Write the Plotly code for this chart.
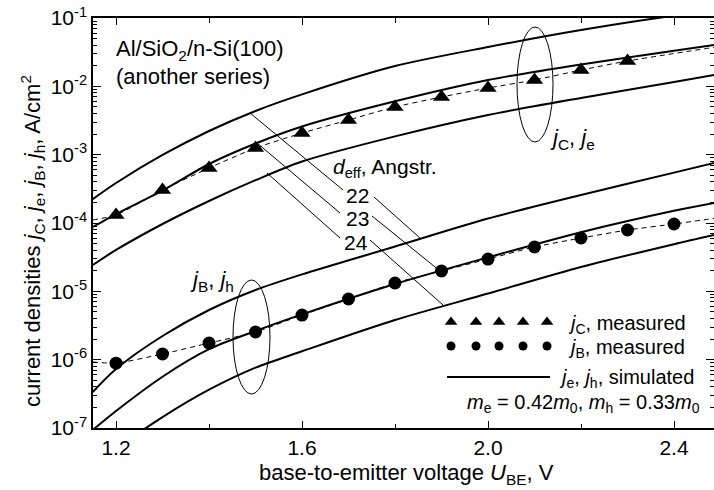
import plotly.graph_objects as go

# ---------------- data ----------------
V_sim = [1.15, 1.2, 1.3, 1.4, 1.5, 1.6, 1.8, 2.0, 2.2, 2.4, 2.49]
je_22 = [2.24e-4, 3.85e-4, 9.89e-4, 2.22e-3, 4.36e-3, 7.62e-3, 1.98e-2, 3.76e-2, 6.67e-2, 1.08e-1, 1.28e-1]
je_23 = [8.74e-5, 1.354e-4, 2.98e-4, 7.30e-4, 1.457e-3, 2.584e-3, 6.04e-3, 1.238e-2, 2.094e-2, 3.31e-2, 4.07e-2]
je_24 = [2.43e-5, 4.03e-5, 9.67e-5, 2.10e-4, 4.23e-4, 7.94e-4, 1.851e-3, 3.81e-3, 6.77e-3, 1.161e-2, 1.485e-2]
jh_22 = [3.36e-7, 7.30e-7, 2.22e-6, 5.33e-6, 1.046e-5, 1.769e-5, 4.53e-5, 1.164e-4, 2.57e-4, 5.46e-4, 7.68e-4]
jh_23 = [9.35e-8, 1.773e-7, 5.63e-7, 1.423e-6, 2.627e-6, 4.597e-6, 1.28e-5, 3.138e-5, 7.33e-5, 1.509e-4, 1.988e-4]
jh_24 = [2.69e-8, 4.93e-8, 1.443e-7, 3.635e-7, 7.65e-7, 1.326e-6, 3.806e-6, 9.27e-6, 2.27e-5, 4.90e-5, 6.76e-5]

V_C = [1.2, 1.3, 1.4, 1.5, 1.6, 1.7, 1.8, 1.9, 2.0, 2.1, 2.2, 2.3]
jC_meas = [1.31e-4, 3.04e-4, 6.38e-4, 1.25e-3, 2.07e-3, 3.22e-3, 4.99e-3, 6.98e-3, 9.45e-3, 1.24e-2, 1.73e-2, 2.35e-2]
V_B = [1.2, 1.3, 1.4, 1.5, 1.6, 1.7, 1.8, 1.9, 2.0, 2.1, 2.2, 2.3, 2.4]
jB_meas = [8.9e-7, 1.21e-6, 1.75e-6, 2.54e-6, 4.50e-6, 7.72e-6, 1.324e-5, 1.984e-5, 2.97e-5, 4.46e-5, 6.03e-5, 7.9e-5, 9.67e-5]
# ends of the dashed guide lines (left axis / right edge)
guide_V_ends = [1.15, 2.49]
jC_guide_ends = [1.107e-4, 3.76e-2]
jB_guide_ends = [9.25e-7, 1.18e-4]

x_ticks = [1.2, 1.6, 2.0, 2.4]
x_tick_labels = ["1.2", "1.6", "2.0", "2.4"]
y_ticks = [1e-7, 1e-6, 1e-5, 1e-4, 1e-3, 1e-2, 1e-1]
y_tick_labels = ["10<sup>-7</sup>", "10<sup>-6</sup>", "10<sup>-5</sup>", "10<sup>-4</sup>",
                 "10<sup>-3</sup>", "10<sup>-2</sup>", "10<sup>-1</sup>"]

X_RANGE = [1.1505, 2.486]
Y_RANGE = [-7, -1]

# ---------------- layout geometry (pixels) ----------------
W, H = 714, 490
PL, PR, PT, PB = 93, 714, 18, 428
FONT = "Liberation Sans, Arial, sans-serif"


def fx(px):
    return (px - PL) / (PR - PL)


def fy(py):
    return (PB - py) / (PB - PT)


fig = go.Figure()

sim_style = dict(color="black", width=2, shape="spline", smoothing=0.8)
for arr in (je_22, je_23, je_24, jh_22, jh_23, jh_24):
    fig.add_trace(go.Scatter(x=V_sim, y=arr, mode="lines", line=sim_style,
                             showlegend=False, hoverinfo="skip"))

guide_style = dict(color="black", width=1, dash="5px,4px", shape="spline", smoothing=0.6)
fig.add_trace(go.Scatter(x=[guide_V_ends[0]] + V_C + [guide_V_ends[1]],
                         y=[jC_guide_ends[0]] + jC_meas + [jC_guide_ends[1]],
                         mode="lines", line=guide_style, showlegend=False, hoverinfo="skip"))
fig.add_trace(go.Scatter(x=[guide_V_ends[0]] + V_B + [guide_V_ends[1]],
                         y=[jB_guide_ends[0]] + jB_meas + [jB_guide_ends[1]],
                         mode="lines", line=guide_style, showlegend=False, hoverinfo="skip"))

fig.add_trace(go.Scatter(x=V_C, y=jC_meas, mode="markers",
                         marker=dict(symbol="triangle-up", size=15, color="black"),
                         showlegend=False, hoverinfo="skip"))
fig.add_trace(go.Scatter(x=V_B, y=jB_meas, mode="markers",
                         marker=dict(symbol="circle", size=13, color="black"),
                         showlegend=False, hoverinfo="skip"))

# dummy traces to make the mirrored top/right axes render
fig.add_trace(go.Scatter(x=[1.2], y=[1e-4], xaxis="x2", yaxis="y2", mode="markers",
                         marker=dict(opacity=0), showlegend=False, hoverinfo="skip"))

# legend keys (pixel overlay axes)
leg_x = [451, 476, 499, 523, 547]
fig.add_trace(go.Scatter(x=leg_x, y=[322] * 5, xaxis="x3", yaxis="y3", mode="markers",
                         marker=dict(symbol="triangle-up", size=11, color="black"),
                         showlegend=False, hoverinfo="skip"))
fig.add_trace(go.Scatter(x=leg_x, y=[346] * 5, xaxis="x3", yaxis="y3", mode="markers",
                         marker=dict(symbol="circle", size=9, color="black"),
                         showlegend=False, hoverinfo="skip"))
fig.add_trace(go.Scatter(x=[447, 550], y=[377, 377], xaxis="x3", yaxis="y3", mode="lines",
                         line=dict(color="black", width=2),
                         showlegend=False, hoverinfo="skip"))

shapes = []
# leader lines for d_eff labels
leaders = [((250, 113), (343, 190)), ((374, 197), (420, 238)),
           ((257, 143), (340, 213)), ((372, 216), (440, 271)),
           ((267, 173), (340, 238)), ((370, 240), (443, 305))]
for (x0, y0), (x1, y1) in leaders:
    shapes.append(dict(type="line", xref="paper", yref="paper",
                       x0=fx(x0), y0=fy(y0), x1=fx(x1), y1=fy(y1),
                       line=dict(color="black", width=1)))
# ellipses
for cx, cy, rx, ry in [(535, 84.5, 18, 57.5), (251.5, 337, 18.5, 57)]:
    shapes.append(dict(type="circle", xref="paper", yref="paper",
                       x0=fx(cx - rx), x1=fx(cx + rx), y0=fy(cy + ry), y1=fy(cy - ry),
                       line=dict(color="black", width=1)))

ann = []


def add_text(text, px, py, size, xanchor="left", yanchor="middle", angle=0):
    ann.append(dict(text=text, xref="paper", yref="paper", x=fx(px), y=fy(py),
                    xanchor=xanchor, yanchor=yanchor, showarrow=False, textangle=angle,
                    font=dict(family=FONT, size=size, color="black")))


add_text("Al/SiO<sub>2</sub>/n-Si(100)", 114, 50, 22)
add_text("(another series)", 114, 76, 22)
add_text("<i>d</i><sub>eff</sub>, Angstr.", 331, 168, 21)
add_text("22", 357, 195, 21, xanchor="center")
add_text("23", 357, 218, 21, xanchor="center")
add_text("24", 356, 242, 21, xanchor="center")
add_text("<i>j</i><sub>C</sub>, <i>j</i><sub>e</sub>", 548, 139, 22)
add_text("<i>j</i><sub>B</sub>, <i>j</i><sub>h</sub>", 188, 281, 22)
add_text("<i>j</i><sub>C</sub>, measured", 566, 324, 20)
add_text("<i>j</i><sub>B</sub>, measured", 566, 348, 20)
add_text("<i>j</i><sub>e</sub>, <i>j</i><sub>h</sub>, simulated", 557, 378, 20)
add_text("<i>m</i><sub>e</sub> = 0.42<i>m</i><sub>0</sub>, <i>m</i><sub>h</sub> = 0.33<i>m</i><sub>0</sub>",
         702, 403, 20, xanchor="right")
add_text("base-to-emitter voltage <i>U</i><sub>BE</sub>, V", 406, 474, 22, xanchor="center")
add_text("current densities <i>j</i><sub>C</sub>, <i>j</i><sub>e</sub>, <i>j</i><sub>B</sub>, "
         "<i>j</i><sub>h</sub>, A/cm<sup>2</sup>", 32, 241, 22, xanchor="center", angle=-90)

axis_common = dict(showgrid=False, zeroline=False, linecolor="black", linewidth=1.5,
                   ticks="inside", tickcolor="black", tickwidth=1.2,
                   tickfont=dict(family=FONT, size=21, color="black"))

fig.update_layout(
    width=W, height=H,
    margin=dict(l=PL, r=W - PR, t=PT, b=H - PB),
    paper_bgcolor="white", plot_bgcolor="white",
    showlegend=False,
    font=dict(family=FONT, color="black"),
    xaxis=dict(range=X_RANGE, tickvals=x_ticks, ticktext=x_tick_labels, showline=True,
               ticklen=7, minor=dict(ticks="inside", dtick=0.2, tick0=1.2, ticklen=4,
                                      tickcolor="black", tickwidth=1.2),
               **axis_common),
    yaxis=dict(type="log", range=Y_RANGE, tickvals=y_ticks, ticktext=y_tick_labels,
               showline=True, ticklen=8,
               minor=dict(ticks="inside", dtick="D1", ticklen=4, tickcolor="black", tickwidth=1),
               **axis_common),
    xaxis2=dict(overlaying="x", side="top", anchor="y2", range=X_RANGE, tickvals=x_ticks,
                showticklabels=False, showline=True, ticklen=7,
                minor=dict(ticks="inside", dtick=0.2, tick0=1.2, ticklen=5,
                           tickcolor="black", tickwidth=1.2),
                **axis_common),
    yaxis2=dict(overlaying="y", side="right", anchor="x2", type="log", range=Y_RANGE,
                tickvals=y_ticks, showticklabels=False, showline=False, ticklen=8,
                minor=dict(ticks="inside", dtick="D1", ticklen=4, tickcolor="black", tickwidth=1),
                **axis_common),
    xaxis3=dict(overlaying="x", anchor="y3", range=[PL, PR], visible=False),
    yaxis3=dict(overlaying="y", anchor="x3", range=[PB, PT], visible=False),
    shapes=shapes,
    annotations=ann,
)

fig.write_html("out.html", config={"displayModeBar": False},
               post_script="document.body.style.margin='0';document.body.style.overflow='hidden';")
